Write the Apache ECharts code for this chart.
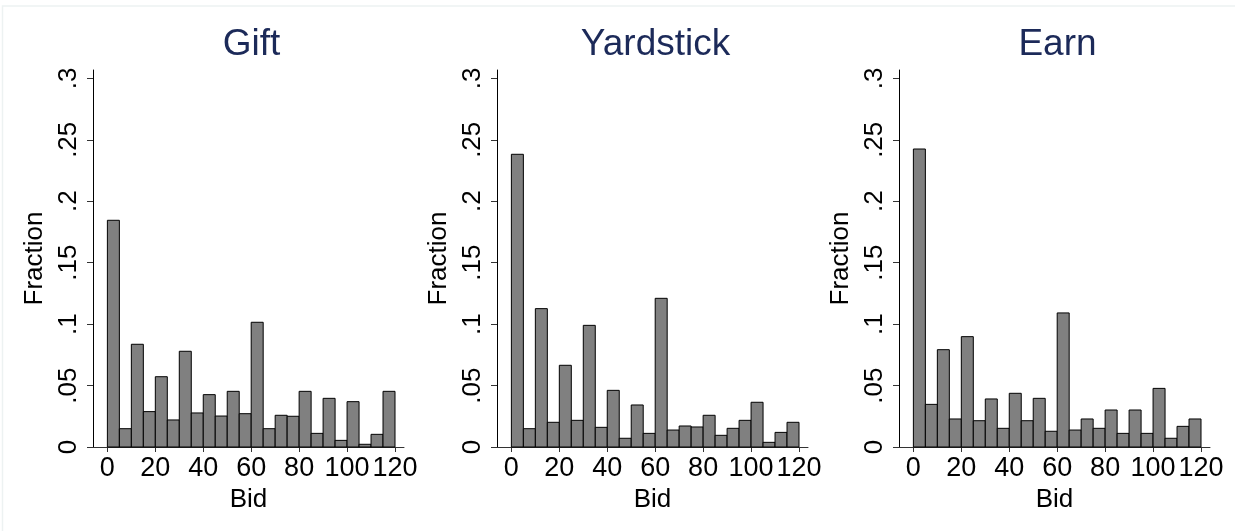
<!DOCTYPE html>
<html>
<head>
<meta charset="utf-8">
<script src="https://cdn.jsdelivr.net/npm/echarts@6/dist/echarts.min.js"></script>
<style>
  html, body { margin: 0; padding: 0; background: #ffffff; }
  #chart { width: 1235px; height: 531px; }
</style>
</head>
<body>
<div id="chart"></div>
<script>
// ---- data ----
const panelTitles = ['Gift', 'Yardstick', 'Earn'];
const binStart = [0, 5, 10, 15, 20, 25, 30, 35, 40, 45, 50, 55, 60, 65, 70, 75, 80, 85, 90, 95, 100, 105, 110, 115];
const binWidth = 5;
const gift = [0.1845, 0.0149, 0.0836, 0.0288, 0.0572, 0.0220, 0.0779, 0.0277, 0.0426, 0.0252, 0.0453, 0.0271,
              0.1015, 0.0149, 0.0258, 0.0250, 0.0453, 0.0111, 0.0396, 0.0054, 0.0369, 0.0022, 0.0103, 0.0453];
const yardstick = [0.2382, 0.0149, 0.1126, 0.0201, 0.0665, 0.0217, 0.0990, 0.0160, 0.0461, 0.0071, 0.0342, 0.0111,
                   0.1210, 0.0138, 0.0171, 0.0163, 0.0258, 0.0095, 0.0152, 0.0217, 0.0364, 0.0038, 0.0119, 0.0201];
const earn = [0.2425, 0.0347, 0.0792, 0.0228, 0.0898, 0.0214, 0.0391, 0.0152, 0.0437, 0.0214, 0.0396, 0.0128,
              0.1091, 0.0138, 0.0228, 0.0152, 0.0301, 0.0111, 0.0301, 0.0111, 0.0477, 0.0071, 0.0168, 0.0228];
const xTicks = [0, 20, 40, 60, 80, 100, 120];
const yTicks = [0, 0.05, 0.1, 0.15, 0.2, 0.25, 0.3];
const yTickLabels = ['0', '.05', '.1', '.15', '.2', '.25', '.3'];
const xName = 'Bid';
const yName = 'Fraction';

// ---- layout ----
const panelSeries = [gift, yardstick, earn];
const grids = [
  { left: 93, width: 311 },
  { left: 497, width: 311 },
  { left: 899, width: 311 }
];
const gridTop = 70, gridBottomY = 447;
const FONT = '"Liberation Sans", Arial, Helvetica, sans-serif';

function renderItem(params, api) {
  const x0 = api.value(0), x1 = api.value(1), v = api.value(2);
  const p0 = api.coord([x0, 0]);
  const p1 = api.coord([x1, v]);
  return {
    type: 'rect',
    shape: { x: p0[0], y: p1[1], width: p1[0] - p0[0], height: p0[1] - p1[1] },
    style: { fill: '#808080', stroke: '#000000', lineWidth: 1 }
  };
}

const option = {
  backgroundColor: '#ffffff',
  animation: false,
  title: grids.map((g, i) => ({
    text: panelTitles[i],
    left: g.left + g.width / 2 - 2,
    top: 21,
    textAlign: 'center',
    textStyle: { fontFamily: FONT, fontSize: 37, fontWeight: 'normal', color: '#1c2a59' }
  })),
  graphic: [{
    type: 'rect', silent: true,
    shape: { x: 2.5, y: 6, width: 1300, height: 600 },
    style: { fill: 'none', stroke: '#edf2f2', lineWidth: 1.5 }
  }],
  grid: grids.map(g => ({ left: g.left, width: g.width, top: gridTop, height: gridBottomY - gridTop })),
  xAxis: grids.map((g, i) => ({
    type: 'value', gridIndex: i, min: -6, max: 123.75,
    name: xName, nameLocation: 'middle', nameGap: 35,
    nameTextStyle: { fontFamily: FONT, fontSize: 26, color: '#000' },
    axisLine: { show: true, onZero: false, lineStyle: { color: '#333', width: 1 } },
    axisTick: { show: true, customValues: xTicks, length: 5, lineStyle: { color: '#333' } },
    axisLabel: { customValues: xTicks, margin: 8, fontFamily: FONT, fontSize: 27, color: '#000' },
    splitLine: { show: false }
  })),
  yAxis: grids.map((g, i) => ({
    type: 'value', gridIndex: i, min: 0, max: 0.3068,
    name: yName, nameLocation: 'middle', nameGap: 45,
    nameTextStyle: { fontFamily: FONT, fontSize: 26, color: '#000' },
    axisLine: { show: true, onZero: false, lineStyle: { color: '#000', width: 1 } },
    axisTick: { show: true, customValues: yTicks, length: 6, lineStyle: { color: '#333' } },
    axisLabel: {
      customValues: yTicks, rotate: 90, margin: 11,
      fontFamily: FONT, fontSize: 26, color: '#000',
      formatter: v => {
        const k = yTicks.findIndex(t => Math.abs(t - v) < 1e-9);
        return k >= 0 ? yTickLabels[k] : '';
      }
    },
    splitLine: { show: false }
  })),
  series: panelSeries.map((vals, i) => ({
    type: 'custom',
    xAxisIndex: i, yAxisIndex: i,
    renderItem: renderItem,
    encode: { x: [0, 1], y: 2 },
    data: binStart.map((s, k) => [s, s + binWidth, vals[k]])
  }))
};

const chart = echarts.init(document.getElementById('chart'), null, { renderer: 'canvas' });
chart.setOption(option);
</script>
</body>
</html>
